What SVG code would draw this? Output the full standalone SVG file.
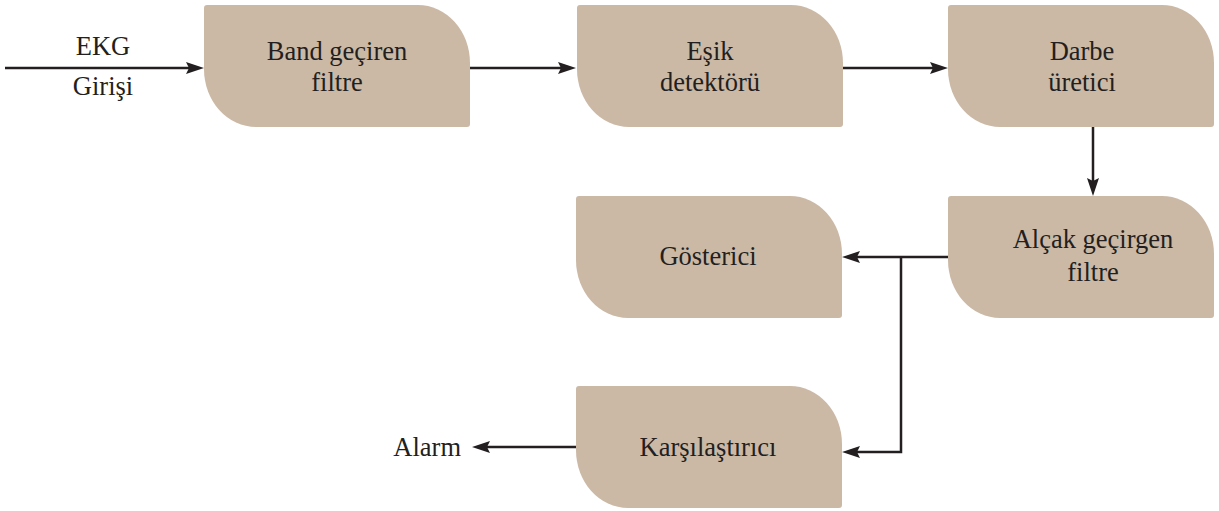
<svg xmlns="http://www.w3.org/2000/svg" xmlns:xlink="http://www.w3.org/1999/xlink" width="1219" height="511" viewBox="0 0 1219 511">
  <style>
    .box { fill: #cbb9a6; }
    .lbl { font-family: "Liberation Serif", "Times New Roman", Times, serif; font-size: 26.5px; fill: #231f20; text-anchor: middle; }
    .wire { fill: none; stroke: #231f20; stroke-width: 2.5; }
  </style>
  <defs>
    <path id="shape" d="M3,0 H214 A52,58 0 0 1 266,58 V119 A3,3 0 0 1 263,122 H52 A52,58 0 0 1 0,64 V3 A3,3 0 0 1 3,0 Z"/>
    <marker id="arr" viewBox="0 0 18 12" refX="10" refY="6" markerWidth="18" markerHeight="12" markerUnits="userSpaceOnUse" orient="auto">
      <path d="M0,0 L18,6 L0,12 L3,6 Z" fill="#231f20"/>
    </marker>
  </defs>
  <rect width="1219" height="511" fill="#ffffff"/>

  <g id="connectors">
    <path class="wire" d="M5,68 H196" marker-end="url(#arr)"/>
    <path class="wire" d="M470,68 H568" marker-end="url(#arr)"/>
    <path class="wire" d="M843,68 H940" marker-end="url(#arr)"/>
    <path class="wire" d="M1093,127 V188" marker-end="url(#arr)"/>
    <path class="wire" d="M948,257 H850" marker-end="url(#arr)"/>
    <path class="wire" d="M901,257 V452 H850" marker-end="url(#arr)"/>
    <path class="wire" d="M576,447 H480" marker-end="url(#arr)"/>
  </g>

  <g id="input-label">
    <text class="lbl" x="103" y="55">EKG</text>
    <text class="lbl" x="103" y="95">Girişi</text>
  </g>

  <g id="band-geciren-filtre">
    <use xlink:href="#shape" class="box" x="204" y="5"/>
    <text class="lbl" x="337" y="60">Band geçiren</text>
    <text class="lbl" x="337" y="91">filtre</text>
  </g>

  <g id="esik-detektoru">
    <use xlink:href="#shape" class="box" x="577" y="5"/>
    <text class="lbl" x="710" y="60">Eşik</text>
    <text class="lbl" x="710" y="91">detektörü</text>
  </g>

  <g id="darbe-uretici">
    <use xlink:href="#shape" class="box" x="948" y="5"/>
    <text class="lbl" x="1082" y="60">Darbe</text>
    <text class="lbl" x="1082" y="91">üretici</text>
  </g>

  <g id="alcak-gecirgen-filtre">
    <use xlink:href="#shape" class="box" x="948" y="196"/>
    <text class="lbl" x="1093" y="248">Alçak geçirgen</text>
    <text class="lbl" x="1093" y="281">filtre</text>
  </g>

  <g id="gosterici">
    <use xlink:href="#shape" class="box" x="576" y="196"/>
    <text class="lbl" x="708" y="265">Gösterici</text>
  </g>

  <g id="karsilastirici">
    <use xlink:href="#shape" class="box" x="576" y="386"/>
    <text class="lbl" x="708" y="456">Karşılaştırıcı</text>
  </g>

  <g id="alarm">
    <text class="lbl" x="461" y="456" style="text-anchor:end">Alarm</text>
  </g>
</svg>
